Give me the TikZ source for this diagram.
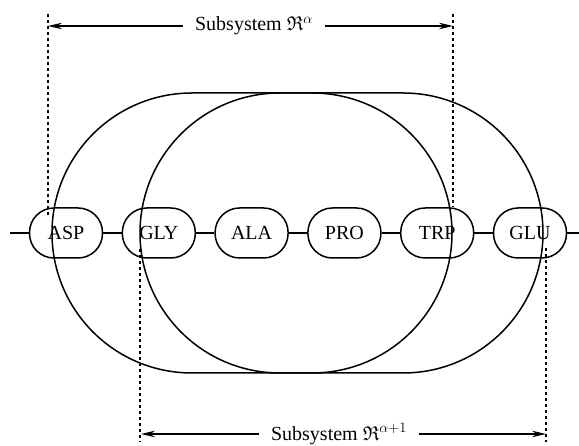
\documentclass[tikz,border=0pt]{standalone}
\usepackage{fontspec}
\setmainfont{Liberation Serif}
\usepackage{amssymb}
\usetikzlibrary{arrows.meta}
\begin{document}
\begin{tikzpicture}[x=1pt,y=1pt,
  res/.style={draw, line width=1.5pt, rounded corners=24.5pt, minimum width=73pt, minimum height=50pt, inner sep=0pt, font=\fontsize{20}{22}\selectfont},
  link/.style={line width=1.5pt},
  bound/.style={line width=1.6pt, dash pattern=on 3.5pt off 2.5pt},
  span/.style={line width=1.5pt, -{Stealth[length=14pt,width=6.5pt]}},
  lab/.style={font=\fontsize{20}{24}\selectfont, inner ysep=0pt, inner xsep=12pt},
  hull/.style={line width=1.5pt}]
\useasboundingbox (0,0) rectangle (579,446);
% subsystem hulls
\draw[hull] (192,353) -- (312,353) arc[start angle=90, end angle=-90, radius=140pt] -- (192,73) arc[start angle=270, end angle=90, radius=140pt] -- cycle;
\draw[hull] (280,353) -- (403,353) arc[start angle=90, end angle=-90, radius=140pt] -- (280,73) arc[start angle=270, end angle=90, radius=140pt] -- cycle;
% residues
\node[res] (asp) at (66,213) {ASP};
\node[res] (gly) at (158.8,213) {GLY};
\node[res] (ala) at (251.6,213) {ALA};
\node[res] (pro) at (344.4,213) {PRO};
\node[res] (trp) at (437.2,213) {TRP};
\node[res] (glu) at (530,213) {GLU};
\coordinate (cl) at (10,213);
\coordinate (cr) at (579,213);
\draw[link] (cl) -- (asp);
\draw[link] (asp) -- (gly);
\draw[link] (gly) -- (ala);
\draw[link] (ala) -- (pro);
\draw[link] (pro) -- (trp);
\draw[link] (trp) -- (glu);
\draw[link] (glu) -- (cr);
% boundaries
\draw[bound] (48,432) -- (48,229);
\draw[bound] (453,432) -- (453,239);
\draw[bound] (140,197) -- (140,4);
\draw[bound] (546,198) -- (546,4);
% spans
\coordinate (tlL) at (48,420);
\coordinate (tlR) at (453,420);
\coordinate (blL) at (141,12);
\coordinate (blR) at (546,12);
\node[lab] (tl) at (254,420) {Subsystem $\mathfrak{R}^{\alpha}$};
\node[lab] (bl) at (339,12) {Subsystem $\mathfrak{R}^{\alpha+1}$};
\draw[span] (tl.west) -- (tlL);
\draw[span] (tl.east) -- (tlR);
\draw[span] (bl.west) -- (blL);
\draw[span] (bl.east) -- (blR);
\end{tikzpicture}
\end{document}
